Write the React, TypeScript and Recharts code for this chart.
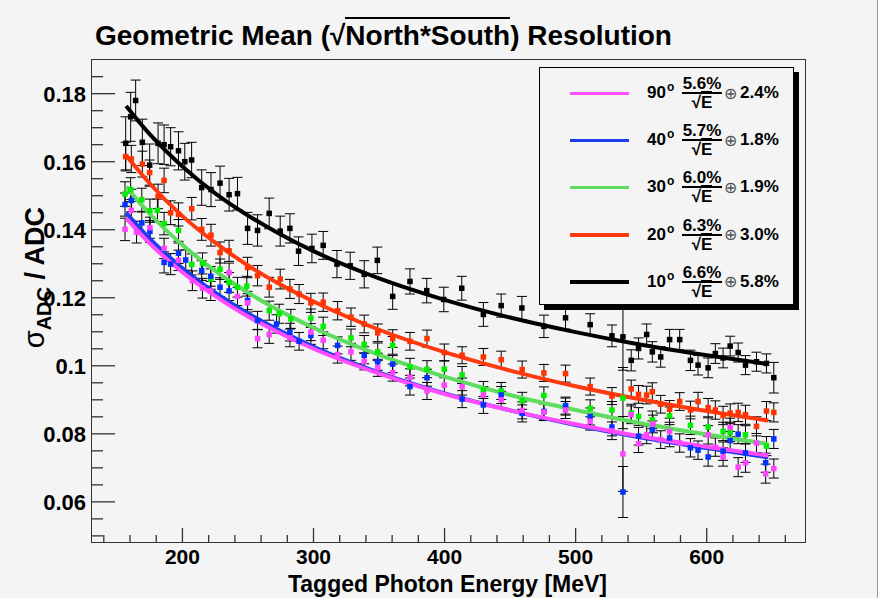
import React from 'react';
import { ComposedChart, Scatter, Line, XAxis, YAxis, ErrorBar } from 'recharts';

// ---- layout (px) ----
const W = 893;
const H = 600;
const PLOT_L = 92;
const PLOT_T = 60;
const PLOT_R = 805;
const PLOT_B = 542;
const FONT = '"Liberation Sans", Arial, Helvetica, sans-serif';
const BG = '#f4f4f4';

// ---- measured points, per detector angle ----
const blackE = [156.7, 160.5, 164.3, 169.4, 175, 181.4, 186, 191, 197, 201.8, 207, 214.7, 221.8, 228.7, 235.6, 242, 249.7, 257.3, 266.2, 274.6, 282, 288.6, 298.8, 307.4, 317.9, 328, 338.7, 348.7, 360.4, 373.6, 386.4, 399.4, 413.1, 429.6, 443.2, 459, 475.8, 492.3, 511.1, 527.7, 536.1, 542.4, 548, 554.2, 558.5, 564.9, 571.7, 579.4, 587.6, 593.4, 601.1, 606.6, 612.5, 617.9, 624, 629.6, 638, 645.6, 651.2];
const blackV = [0.1654, 0.1732, 0.178, 0.1657, 0.159, 0.1654, 0.165, 0.1644, 0.1632, 0.16, 0.1605, 0.1524, 0.1518, 0.1537, 0.1503, 0.1506, 0.1404, 0.1398, 0.1448, 0.1396, 0.1404, 0.1337, 0.1345, 0.1354, 0.1299, 0.1294, 0.1269, 0.131, 0.1204, 0.1248, 0.1221, 0.1195, 0.1228, 0.1151, 0.1177, 0.117, 0.1116, 0.1141, 0.1121, 0.1088, 0.1085, 0.1016, 0.1051, 0.1092, 0.1041, 0.1026, 0.1077, 0.1077, 0.1016, 0.1002, 0.0994, 0.1036, 0.1023, 0.1058, 0.1039, 0.1002, 0.1012, 0.1007, 0.0965];
const blackErr = [0.0078, 0.0072, 0.006, 0.0068, 0.0062, 0.006, 0.0058, 0.0056, 0.0056, 0.0054, 0.0052, 0.0052, 0.005, 0.005, 0.0048, 0.0048, 0.0047, 0.0046, 0.0045, 0.0044, 0.0043, 0.0042, 0.0042, 0.0041, 0.004, 0.004, 0.004, 0.0039, 0.0038, 0.0037, 0.0036, 0.0036, 0.0035, 0.0035, 0.0034, 0.0034, 0.0033, 0.0033, 0.0032, 0.0032, 0.0098, 0.0031, 0.0031, 0.0031, 0.003, 0.003, 0.003, 0.003, 0.003, 0.0029, 0.0029, 0.0029, 0.0029, 0.0029, 0.0028, 0.0028, 0.0028, 0.0028, 0.0045];

const redE = [156.7, 161, 169.4, 175, 181.4, 186, 191, 197, 207.1, 214.7, 221.8, 228.7, 235.6, 249.7, 257.3, 266.2, 274.6, 282, 289, 298, 307.4, 318.4, 328.6, 338.7, 349, 360.4, 373.6, 386.6, 399.8, 413.4, 429.6, 443.2, 459.2, 475.8, 492.3, 511.1, 527.7, 542.4, 548, 554.2, 558.5, 564.9, 571.7, 579.4, 587.6, 593.4, 601.1, 606.6, 612.5, 617.9, 624, 629.6, 638, 645.6, 651.2];
const redV = [0.1615, 0.1608, 0.1593, 0.1568, 0.1498, 0.1545, 0.145, 0.1445, 0.1462, 0.1401, 0.1384, 0.1333, 0.1338, 0.1289, 0.1265, 0.1231, 0.1255, 0.1226, 0.1211, 0.1185, 0.1187, 0.1162, 0.1143, 0.1123, 0.1097, 0.108, 0.1072, 0.108, 0.1039, 0.1031, 0.1026, 0.1018, 0.0989, 0.0979, 0.0977, 0.0939, 0.0911, 0.0932, 0.0916, 0.0914, 0.0924, 0.0887, 0.0872, 0.0895, 0.087, 0.0895, 0.0877, 0.087, 0.0854, 0.0861, 0.0863, 0.0856, 0.0822, 0.0867, 0.0863];
const redErr = [0.0042, 0.004, 0.0038, 0.0037, 0.0036, 0.0036, 0.0035, 0.0034, 0.0033, 0.0032, 0.0032, 0.0031, 0.0031, 0.003, 0.003, 0.0029, 0.0029, 0.0028, 0.0028, 0.0028, 0.0027, 0.0027, 0.0027, 0.0026, 0.0026, 0.0026, 0.0026, 0.0025, 0.0025, 0.0025, 0.0025, 0.0025, 0.0025, 0.0025, 0.0025, 0.0025, 0.0025, 0.0026, 0.0026, 0.0026, 0.0026, 0.0026, 0.0026, 0.0026, 0.0026, 0.0027, 0.0027, 0.0027, 0.0027, 0.0027, 0.0027, 0.0028, 0.0028, 0.0028, 0.0028];

const greenE = [156.2, 160.5, 169, 175.2, 180.9, 186, 197, 207.1, 215.3, 221.6, 228.7, 235.6, 242, 249.1, 266.2, 273.8, 282.7, 298, 307.4, 328.6, 338.7, 349, 360.4, 373.6, 386.6, 399.8, 413.4, 429.6, 443.2, 459.2, 475.8, 492.3, 511.1, 527.7, 536.1, 542.4, 548, 558.5, 571.7, 587.6, 601.1, 612.5, 617.9, 629.6, 645.6];
const greenV = [0.1505, 0.1518, 0.1488, 0.1456, 0.1457, 0.1418, 0.1398, 0.1298, 0.1301, 0.1255, 0.1284, 0.1245, 0.1231, 0.1234, 0.1162, 0.1153, 0.1138, 0.114, 0.1116, 0.1082, 0.1063, 0.1041, 0.106, 0.0997, 0.099, 0.099, 0.0973, 0.0929, 0.0926, 0.0897, 0.0913, 0.088, 0.0875, 0.087, 0.0905, 0.0861, 0.0851, 0.0841, 0.0853, 0.0825, 0.082, 0.0807, 0.0804, 0.0797, 0.0764];
const greenErr = [0.0036, 0.0035, 0.0034, 0.0034, 0.0033, 0.0033, 0.0032, 0.0031, 0.0031, 0.003, 0.003, 0.0029, 0.0029, 0.0029, 0.0028, 0.0028, 0.0028, 0.0027, 0.0027, 0.0026, 0.0026, 0.0026, 0.0026, 0.0025, 0.0025, 0.0025, 0.0025, 0.0025, 0.0025, 0.0025, 0.0025, 0.0025, 0.0025, 0.0025, 0.009, 0.0026, 0.0026, 0.0026, 0.0026, 0.0027, 0.0027, 0.0027, 0.0027, 0.0027, 0.0028];

const blueE = [156.2, 161, 169, 175.2, 186, 191, 197, 202.5, 214.7, 221.6, 228.7, 235.6, 249.7, 257.3, 271.8, 282, 289, 298, 318.4, 338.7, 349, 360.4, 373.6, 386.6, 413.4, 429.6, 443.2, 459.2, 475.8, 492.3, 511.1, 527.7, 536.1, 548, 558.5, 571.7, 587.6, 593.4, 601.1, 612.5, 617.9, 624, 629.6, 645, 651.2];
const blueV = [0.1474, 0.1486, 0.142, 0.1395, 0.1304, 0.1299, 0.1331, 0.1311, 0.128, 0.1263, 0.1231, 0.122, 0.1192, 0.1133, 0.1123, 0.1099, 0.1072, 0.1089, 0.106, 0.1031, 0.1012, 0.1005, 0.0939, 0.0965, 0.0902, 0.0885, 0.0914, 0.086, 0.0866, 0.0883, 0.0851, 0.082, 0.0629, 0.0793, 0.0812, 0.0788, 0.0759, 0.0752, 0.0732, 0.0749, 0.078, 0.0799, 0.0744, 0.0715, 0.0785];
const blueErr = [0.0034, 0.0033, 0.0032, 0.0032, 0.0031, 0.0031, 0.003, 0.003, 0.0029, 0.0029, 0.0028, 0.0028, 0.0027, 0.0027, 0.0027, 0.0026, 0.0026, 0.0026, 0.0025, 0.0025, 0.0025, 0.0025, 0.0025, 0.0025, 0.0025, 0.0025, 0.0025, 0.0025, 0.0025, 0.0025, 0.0025, 0.0026, 0.0075, 0.0026, 0.0026, 0.0026, 0.0027, 0.0027, 0.0027, 0.0027, 0.0027, 0.0028, 0.0028, 0.0028, 0.0028];

const magE = [156.2, 161, 165, 175.2, 186, 197, 207.6, 215.3, 221.6, 235.6, 242, 249.7, 257.3, 266.2, 282, 298, 307.4, 318.4, 328.6, 338.7, 349, 360.4, 373.6, 386.6, 399.8, 413.4, 429.6, 443.2, 459.2, 475.8, 492.3, 511.1, 527.7, 536.1, 542.4, 548, 554.2, 559, 564.9, 571.7, 579.4, 601.1, 606.6, 612.5, 617.9, 624, 629.6, 638, 645, 651.2];
const magV = [0.1401, 0.1457, 0.1393, 0.1406, 0.1345, 0.131, 0.125, 0.1228, 0.122, 0.1274, 0.1204, 0.1185, 0.108, 0.1092, 0.1082, 0.1099, 0.1075, 0.1033, 0.1041, 0.1013, 0.0994, 0.098, 0.0966, 0.0926, 0.0943, 0.0939, 0.0914, 0.09, 0.0869, 0.0864, 0.087, 0.0837, 0.0809, 0.0741, 0.0856, 0.0771, 0.0797, 0.0829, 0.0783, 0.0807, 0.0773, 0.0797, 0.0761, 0.0732, 0.0819, 0.0702, 0.0715, 0.0773, 0.0683, 0.0698];
const magErr = [0.0033, 0.0032, 0.0032, 0.0031, 0.003, 0.003, 0.0029, 0.0029, 0.0028, 0.0028, 0.0027, 0.0027, 0.0027, 0.0026, 0.0026, 0.0025, 0.0025, 0.0025, 0.0025, 0.0025, 0.0025, 0.0025, 0.0025, 0.0025, 0.0025, 0.0025, 0.0025, 0.0025, 0.0025, 0.0025, 0.0025, 0.0026, 0.0026, 0.011, 0.0026, 0.0026, 0.0026, 0.0026, 0.0026, 0.0027, 0.0027, 0.0027, 0.0027, 0.0027, 0.0027, 0.0028, 0.0028, 0.0028, 0.0028, 0.0028];

// ---- fit curves (a/sqrt(E) (+) b) ----
const fitE = [157, 175, 200, 225, 250, 275, 300, 350, 400, 450, 500, 550, 600, 647];
const fitBlack = [0.1764, 0.1681, 0.1586, 0.1507, 0.1442, 0.1386, 0.1337, 0.1257, 0.1194, 0.1142, 0.1099, 0.1062, 0.1031, 0.1005];
const fitRed = [0.1618, 0.1536, 0.144, 0.1362, 0.1295, 0.1238, 0.1189, 0.1106, 0.104, 0.0986, 0.094, 0.0901, 0.0867, 0.0839];
const fitGreen = [0.1526, 0.1447, 0.1355, 0.1279, 0.1215, 0.116, 0.1112, 0.1032, 0.0968, 0.0914, 0.087, 0.0831, 0.0798, 0.077];
const fitBlue = [0.145, 0.1374, 0.1287, 0.1215, 0.1154, 0.1102, 0.1056, 0.098, 0.0919, 0.0869, 0.0826, 0.0789, 0.0758, 0.0731];
const fitMag = [0.1434, 0.136, 0.1275, 0.1205, 0.1145, 0.1095, 0.105, 0.0977, 0.0917, 0.0869, 0.0828, 0.0792, 0.0762, 0.0736];

// ---- legend ----
const legendAngles = ['90', '40', '30', '20', '10'];
const legendStoch = ['5.6%', '5.7%', '6.0%', '6.3%', '6.6%'];
const legendConst = ['2.4%', '1.8%', '1.9%', '3.0%', '5.8%'];
const legendColors = ['#ff4cff', '#1d3cf2', '#5fdc5f', '#ff3a10', '#000000'];

// ---- axis ticks ----
const xTicks = [140, 160, 180, 200, 220, 240, 260, 280, 300, 320, 340, 360, 380, 400, 420, 440, 460, 480, 500, 520, 540, 560, 580, 600, 620, 640, 660];
const xLabels = [200, 300, 400, 500, 600];
const yTicks = [0.05, 0.055, 0.06, 0.065, 0.07, 0.075, 0.08, 0.085, 0.09, 0.095, 0.1, 0.105, 0.11, 0.115, 0.12, 0.125, 0.13, 0.135, 0.14, 0.145, 0.15, 0.155, 0.16, 0.165, 0.17, 0.175, 0.18, 0.185];
const yLabels = [0.06, 0.08, 0.1, 0.12, 0.14, 0.16, 0.18];

const toPts = (es: number[], vs: number[], errs: number[]) =>
  es.map((e, i) => ({ e, v: vs[i], err: errs[i] }));
const toFit = (vs: number[]) => fitE.map((e, i) => ({ e, v: vs[i] }));

const square = (color: string) => (p: any) => (
  <rect x={p.cx - 2.75} y={p.cy - 2.75} width={5.5} height={5.5} fill={color} />
);

const XTick = (p: any) => {
  const major = xLabels.includes(p.payload.value);
  return (
    <g>
      <line x1={p.x} x2={p.x} y1={PLOT_B} y2={PLOT_B - (major ? 14 : 7)} stroke="#333" strokeWidth={1.3} />
      {major && (
        <text x={p.x} y={PLOT_B + 22} textAnchor="middle" fontFamily={FONT} fontWeight="bold" fontSize={21} fill="#000">
          {p.payload.value}
        </text>
      )}
    </g>
  );
};

const YTick = (p: any) => {
  const major = yLabels.some((l) => Math.abs(l - p.payload.value) < 1e-9);
  return (
    <g>
      <line x1={PLOT_L} x2={PLOT_L + (major ? 23 : 11)} y1={p.y} y2={p.y} stroke="#333" strokeWidth={1.3} />
      {major && (
        <text x={PLOT_L - 6} y={p.y + 8} textAnchor="end" fontFamily={FONT} fontWeight="bold" fontSize={22} fill="#000">
          {String(p.payload.value)}
        </text>
      )}
    </g>
  );
};

const series = [
  { pts: toPts(blackE, blackV, blackErr), fit: toFit(fitBlack), dot: '#000000', line: '#000000' },
  { pts: toPts(redE, redV, redErr), fit: toFit(fitRed), dot: '#ff3300', line: '#ff3a10' },
  { pts: toPts(greenE, greenV, greenErr), fit: toFit(fitGreen), dot: '#00ee00', line: '#5fdc5f' },
  { pts: toPts(blueE, blueV, blueErr), fit: toFit(fitBlue), dot: '#0033ff', line: '#1d3cf2' },
  { pts: toPts(magE, magV, magErr), fit: toFit(fitMag), dot: '#ff44ff', line: '#ff4cff' },
];

export default function App() {
  return (
    <div style={{ position: 'absolute', left: 0, top: 0, width: W, height: H, background: '#fff', fontFamily: FONT }}>
      <div style={{ position: 'absolute', left: 0, top: 0, width: 877, height: 598, background: BG, borderRight: '1px solid #999' }} />

      <div style={{ position: 'absolute', left: 0, top: 0 }}>
        <ComposedChart width={W} height={H} margin={{ top: PLOT_T, right: W - PLOT_R, bottom: 0, left: 0 }}>
          <XAxis
            type="number"
            dataKey="e"
            domain={[131, 675]}
            allowDataOverflow
            ticks={xTicks}
            interval={0}
            height={H - PLOT_B}
            axisLine={false}
            tickLine={false}
            tick={XTick}
          />
          <YAxis
            type="number"
            dataKey="v"
            domain={[0.0482, 0.1899]}
            allowDataOverflow
            ticks={yTicks}
            interval={0}
            width={PLOT_L}
            axisLine={false}
            tickLine={false}
            tick={YTick}
          />
          {series.map((s, i) => (
            <Scatter key={`pts-${i}`} data={s.pts} dataKey="v" shape={square(s.dot)} isAnimationActive={false}>
              <ErrorBar dataKey="err" direction="y" width={5} stroke="#000" strokeWidth={1} />
            </Scatter>
          ))}
          {series.map((s, i) => (
            <Line
              key={`fit-${i}`}
              data={s.fit}
              dataKey="v"
              type="monotone"
              stroke={s.line}
              strokeWidth={4}
              dot={false}
              isAnimationActive={false}
            />
          ))}
        </ComposedChart>
      </div>

      {/* frame */}
      <div
        style={{
          position: 'absolute',
          left: PLOT_L - 1,
          top: PLOT_T - 1,
          width: PLOT_R - PLOT_L + 2,
          height: PLOT_B - PLOT_T + 2,
          border: '1.5px solid #333',
          boxSizing: 'border-box',
          pointerEvents: 'none',
        }}
      />

      {/* titles */}
      <div style={{ position: 'absolute', left: 95, top: 22, fontSize: 28, fontWeight: 'bold', lineHeight: '28px', whiteSpace: 'nowrap', color: '#000' }}>
        Geometric Mean (√<span style={{ borderTop: '2px solid #000', paddingTop: 1 }}>North*South</span>) Resolution
      </div>
      <svg width={W} height={H} style={{ position: 'absolute', left: 0, top: 0, pointerEvents: 'none' }}>
        <text x={607} y={592} textAnchor="end" fontFamily={FONT} fontWeight="bold" fontSize={23} fill="#000">
          Tagged Photon Energy [MeV]
        </text>
        <text transform="rotate(-90)" x={-207} y={44} textAnchor="end" fontFamily={FONT} fontWeight="bold" fontSize={27} fill="#000">
          <tspan fontWeight="normal" fontSize={29}>σ</tspan>
          <tspan fontSize={20} dy={7}>ADC</tspan>
          <tspan dy={-7}> / ADC</tspan>
        </text>
      </svg>

      {/* legend */}
      <div
        style={{
          position: 'absolute',
          left: 539,
          top: 67,
          width: 255,
          height: 238,
          border: '1px solid #000',
          background: BG,
          boxShadow: '5px 5px 0 #000',
          boxSizing: 'border-box',
          zIndex: 2,
        }}
      >
        {legendAngles.map((a, i) => (
          <div key={a} style={{ position: 'absolute', left: 0, top: 25 + i * 47.2 - 20, width: '100%', height: 40 }}>
            <div style={{ position: 'absolute', left: 30, top: 18.5, width: 59, height: 3.5, background: legendColors[i] }} />
            <div style={{ position: 'absolute', left: 107, top: 0, height: 40, display: 'flex', alignItems: 'center', fontSize: 17, fontWeight: 'bold' }}>
              {a}
              <span style={{ fontSize: 12, position: 'relative', top: -6, marginLeft: 1 }}>o</span>
            </div>
            <div style={{ position: 'absolute', left: 142, top: 0, height: 40, display: 'flex', alignItems: 'center' }}>
              <div style={{ display: 'flex', flexDirection: 'column', alignItems: 'center', fontSize: 17, fontWeight: 'bold' }}>
                <div style={{ lineHeight: '17px' }}>{legendStoch[i]}</div>
                <div style={{ height: 2, width: 40, background: '#000' }} />
                <div style={{ lineHeight: '17px' }}>
                  √<span style={{ borderTop: '2px solid #000' }}>E</span>
                </div>
              </div>
              <span style={{ fontSize: 16, color: '#555', marginLeft: 2 }}>⊕</span>
              <span style={{ fontSize: 17, fontWeight: 'bold', marginLeft: 3 }}>{legendConst[i]}</span>
            </div>
          </div>
        ))}
      </div>
    </div>
  );
}
